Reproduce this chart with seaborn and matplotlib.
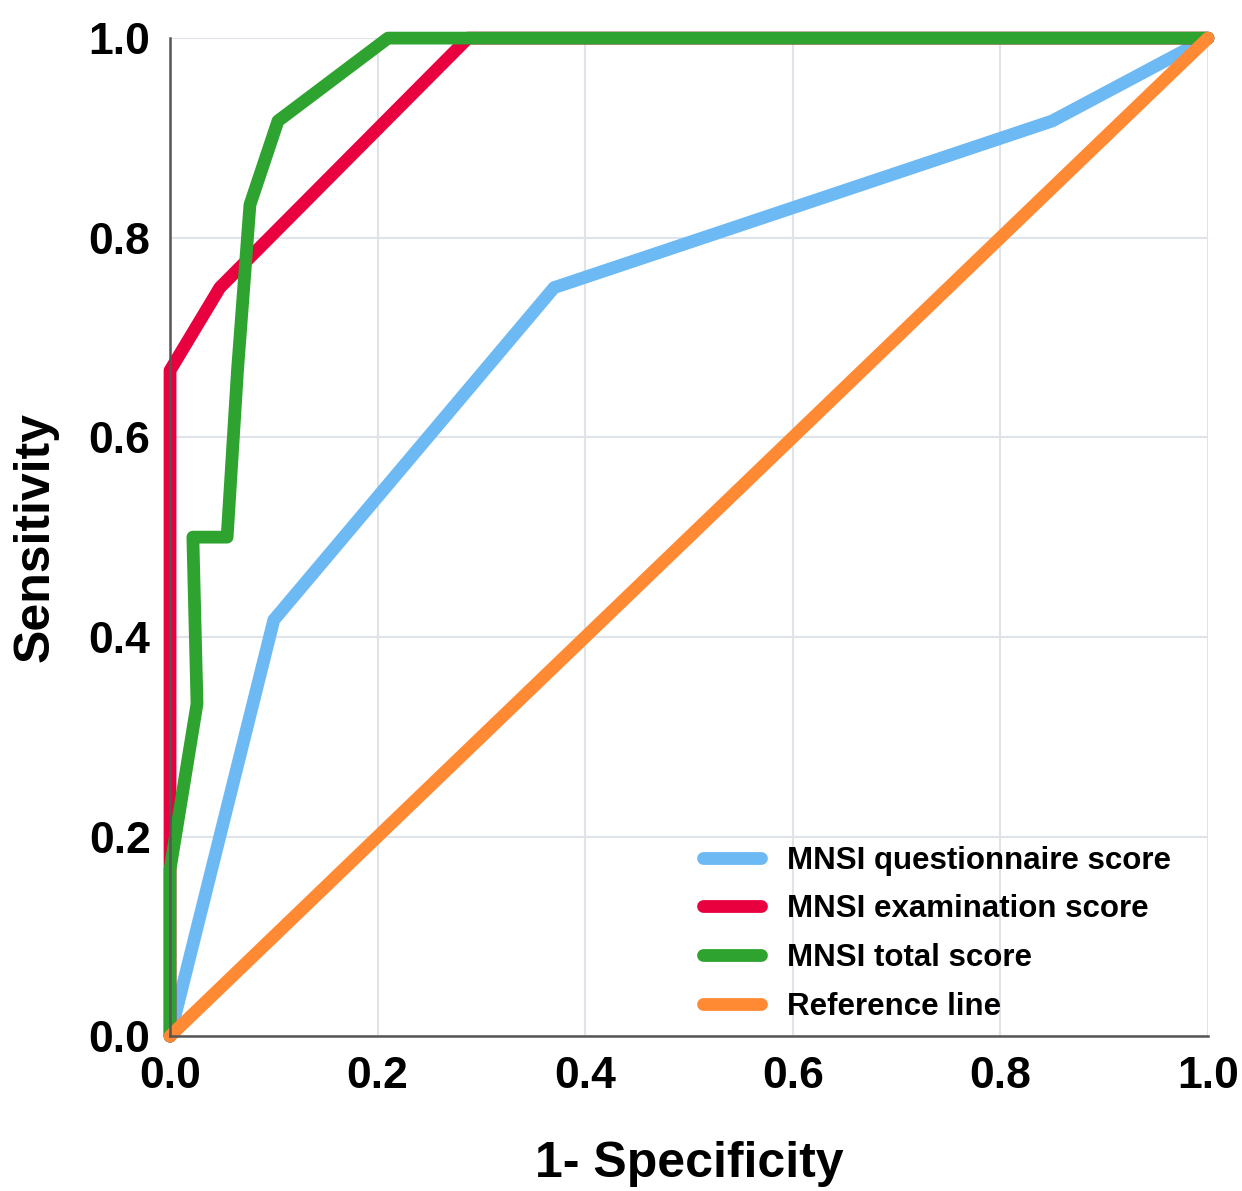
import matplotlib
matplotlib.use("Agg")
import matplotlib.pyplot as plt
import seaborn as sns
import pandas as pd

# ---------------------------
# DATA
# ---------------------------
quest_fpr = [0.0, 0.10, 0.37, 0.85, 1.0]
quest_tpr = [0.0, 0.417, 0.75, 0.917, 1.0]

exam_fpr = [0.0, 0.0, 0.048, 0.287, 1.0]
exam_tpr = [0.0, 0.667, 0.75, 1.0, 1.0]

total_fpr = [0.0, 0.0, 0.026, 0.022, 0.055, 0.065, 0.077, 0.104, 0.21, 1.0]
total_tpr = [0.0, 0.167, 0.333, 0.5, 0.5, 0.667, 0.833, 0.917, 1.0, 1.0]

ref_fpr = [0.0, 1.0]
ref_tpr = [0.0, 1.0]

labels = ["MNSI questionnaire score", "MNSI examination score",
          "MNSI total score", "Reference line"]
colors = ["#6cb9f4", "#e8003f", "#2fa32f", "#ff8a33"]
ticks = [0.0, 0.2, 0.4, 0.6, 0.8, 1.0]

# ---------------------------
# STYLE
# ---------------------------
sns.set_style("whitegrid")
plt.rcParams['font.family'] = ['Liberation Sans', 'DejaVu Sans']
plt.rcParams['font.weight'] = 'bold'
plt.rcParams['text.color'] = 'black'
plt.rcParams['axes.labelcolor'] = 'black'
plt.rcParams['xtick.color'] = 'black'
plt.rcParams['ytick.color'] = 'black'

fig = plt.figure(figsize=(12.42, 11.91), dpi=100)
ax = fig.add_axes([0.1369, 0.130, 0.8357, 0.838])

series = [(quest_fpr, quest_tpr), (exam_fpr, exam_tpr),
          (total_fpr, total_tpr), (ref_fpr, ref_tpr)]

for (fx, fy), lab, col in zip(series, labels, colors):
    d = pd.DataFrame({"fpr": fx, "tpr": fy})
    sns.lineplot(data=d, x="fpr", y="tpr", sort=False, estimator=None,
                 color=col, lw=9.2, label=lab, ax=ax, clip_on=False,
                 solid_joinstyle="round", solid_capstyle="round")

ax.set_xlim(0, 1)
ax.set_ylim(0, 1)
ax.set_xticks(ticks)
ax.set_yticks(ticks)
ax.set_xticklabels([f"{t:.1f}" for t in ticks], fontsize=32, fontweight='bold')
ax.set_yticklabels([f"{t:.1f}" for t in ticks], fontsize=32, fontweight='bold')
ax.tick_params(axis='both', length=0, pad=14)

ax.grid(True, color="#dfe3ea", lw=1.5)
for side in ["top", "right"]:
    ax.spines[side].set_visible(False)
for side in ["left", "bottom"]:
    ax.spines[side].set_color("#555555")
    ax.spines[side].set_linewidth(1.8)

ax.set_xlabel("1- Specificity", fontsize=36, fontweight='bold', labelpad=32)
ax.set_ylabel("Sensitivity", fontsize=36, fontweight='bold', labelpad=22)

leg = ax.legend(loc="upper left", bbox_to_anchor=(0.566, 0.290),
                bbox_transform=fig.transFigure, frameon=False,
                fontsize=22.5, handlelength=1.85, handletextpad=0.83,
                labelspacing=0.6, borderpad=0, borderaxespad=0)
for h in leg.get_lines():
    h.set_linewidth(9.2)
    h.set_solid_capstyle("round")
for t in leg.get_texts():
    t.set_fontweight('bold')

plt.savefig("out.png", dpi=100)
